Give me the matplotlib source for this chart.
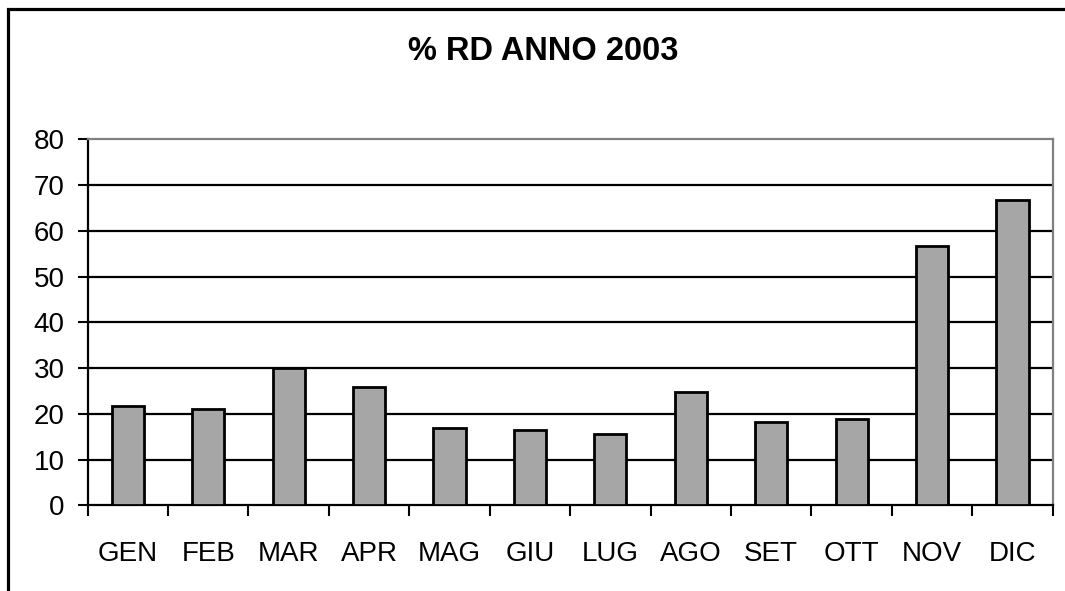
import numpy as np
import matplotlib.pyplot as plt
from matplotlib.patches import Rectangle
from matplotlib.ticker import FixedLocator

# dati: % raccolta differenziata per mese
mesi = ["GEN", "FEB", "MAR", "APR", "MAG", "GIU", "LUG", "AGO", "SET", "OTT", "NOV", "DIC"]
perc_rd = [21.8, 21.1, 30.0, 25.9, 16.9, 16.4, 15.7, 24.7, 18.2, 18.8, 56.7, 66.8]
y_ticks = [0, 10, 20, 30, 40, 50, 60, 70, 80]

plt.rcParams['font.family'] = ['Liberation Sans', 'DejaVu Sans']

fig = plt.figure(figsize=(10.65, 5.91), dpi=100)
ax = fig.add_axes([0.0822, 0.145, 0.9063, 0.619])

x = np.arange(len(mesi))
ax.bar(x, perc_rd, width=0.4, color="#a6a6a6", edgecolor="black", linewidth=2, zorder=3)

ax.set_xlim(-0.5, len(mesi) - 0.5)
ax.set_ylim(0, 80)
ax.set_yticks(y_ticks)
ax.set_yticklabels([str(v) for v in y_ticks], fontsize=20)
ax.set_xticks(x)
ax.set_xticklabels(mesi, fontsize=20)

# tacche ai confini delle categorie
ax.xaxis.set_minor_locator(FixedLocator(np.arange(-0.5, len(mesi), 1.0)))
ax.tick_params(axis='x', which='major', length=0, pad=26)
ax.tick_params(axis='x', which='minor', length=8, width=1.5, direction='out', color='black')
ax.tick_params(axis='y', which='major', length=7.5, width=1.5, direction='out', pad=9)

# griglia orizzontale
for v in y_ticks[1:-1]:
    ax.axhline(v, color='black', linewidth=1.6, zorder=1)

ax.spines['left'].set_linewidth(1.6)
ax.spines['bottom'].set_linewidth(1.6)
ax.spines['top'].set_color('#808080')
ax.spines['top'].set_linewidth(1.6)
ax.spines['right'].set_color('#808080')
ax.spines['right'].set_linewidth(1.6)

fig.text(0.51, 0.913, "% RD ANNO 2003", ha='center', va='center', fontsize=23.5, fontweight='bold')

# cornice esterna del grafico (tagliata a destra e in basso)
fig.patches.append(Rectangle((7.5 / 1065, -0.1), 1.2, 1.1 - 9 / 591, transform=fig.transFigure,
                             fill=False, edgecolor='black', linewidth=2.3))

fig.savefig("out.png", dpi=100)
